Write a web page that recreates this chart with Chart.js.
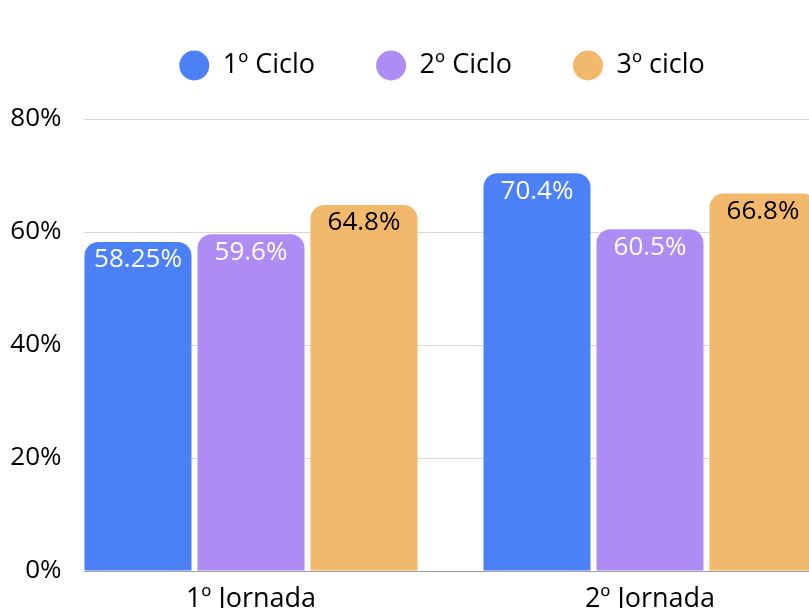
<!DOCTYPE html>
<html>
<head>
<meta charset="utf-8">
<title>Jornadas por ciclo</title>
<script src="https://cdn.jsdelivr.net/npm/chart.js@4"></script>
<style>
  html, body { margin: 0; padding: 0; background: #fff; overflow: hidden; }
  #wrap { width: 809px; height: 608px; overflow: hidden; position: relative; }
  #grafico { position: absolute; left: 0; top: -9px; }
</style>
</head>
<body>
<div id="wrap"><canvas id="grafico" width="884" height="624"></canvas></div>
<script>
// dados
const categorias = ['1º Jornada', '2º Jornada'];
const series = ['1º Ciclo', '2º Ciclo', '3º ciclo'];
const ciclo1 = [58.25, 70.4];
const ciclo2 = [59.6, 60.5];
const ciclo3 = [64.8, 66.8];
const yTicks = [0, 20, 40, 60, 80];

const cores = ['#4c80f6', '#ae8cf3', '#f2b86b'];
const corRotulo = ['#ffffff', '#ffffff', '#000000'];

// rótulos de valor dentro do topo das barras
const rotulos = {
  id: 'rotulos',
  afterDatasetsDraw(chart) {
    const { ctx } = chart;
    ctx.save();
    ctx.font = '26px "Open Sans"';
    ctx.textAlign = 'center';
    ctx.textBaseline = 'middle';
    chart.data.datasets.forEach((ds, i) => {
      chart.getDatasetMeta(i).data.forEach((bar, j) => {
        ctx.fillStyle = corRotulo[i];
        ctx.fillText(ds.data[j].y + '%', bar.x, bar.y + 18);
      });
    });
    ctx.restore();
  }
};

function desenhar() {
  Chart.defaults.font.family = '"Open Sans", sans-serif';
  Chart.defaults.font.size = 26;
  Chart.defaults.color = '#000';

  const valores = [ciclo1, ciclo2, ciclo3];
  new Chart(document.getElementById('grafico'), {
    type: 'bar',
    data: {
      datasets: series.map((nome, i) => ({
        label: nome,
        data: valores[i].map((v, j) => ({ x: j, y: v })),
        backgroundColor: cores[i],
        borderRadius: 14,
        borderSkipped: 'start',
        barPercentage: 0.947,
        categoryPercentage: 0.8496
      }))
    },
    options: {
      responsive: false,
      animation: false,
      layout: { padding: 0 },
      plugins: {
        legend: {
          position: 'top',
          labels: {
            usePointStyle: true,
            pointStyle: 'circle',
            pointStyleWidth: 30,
            boxHeight: 21.2,
            padding: 61,
            font: { size: 27 },
            color: '#000'
          }
        },
        tooltip: { enabled: false }
      },
      scales: {
        x: {
          type: 'linear',
          offset: false,
          // o gráfico original está cortado à direita
          min: -0.4185,
          max: 1.5865,
          grid: { display: false, drawTicks: false },
          border: { display: false },
          afterBuildTicks(s) { s.ticks = categorias.map((c, i) => ({ value: i })); },
          afterFit(s) { s.height = 44; },
          ticks: {
            padding: 12,
            maxRotation: 0,
            autoSkip: false,
            callback: v => categorias[v],
            font: { size: 27 },
            color: '#000'
          }
        },
        y: {
          min: 0,
          max: 85.31,
          grid: {
            drawTicks: false,
            color: c => c.tick && c.tick.value === 0 ? '#9e9e9e' : '#d9d9d9'
          },
          border: { display: false },
          afterBuildTicks(s) { s.ticks = yTicks.map(v => ({ value: v })); },
          afterFit(s) { s.width = 84; },
          ticks: { padding: 22.5, callback: v => v + '%', font: { size: 26 }, color: '#000' }
        }
      }
    },
    plugins: [rotulos]
  });
}

document.fonts.load('26px "Open Sans"').then(desenhar, desenhar);
</script>
</body>
</html>
